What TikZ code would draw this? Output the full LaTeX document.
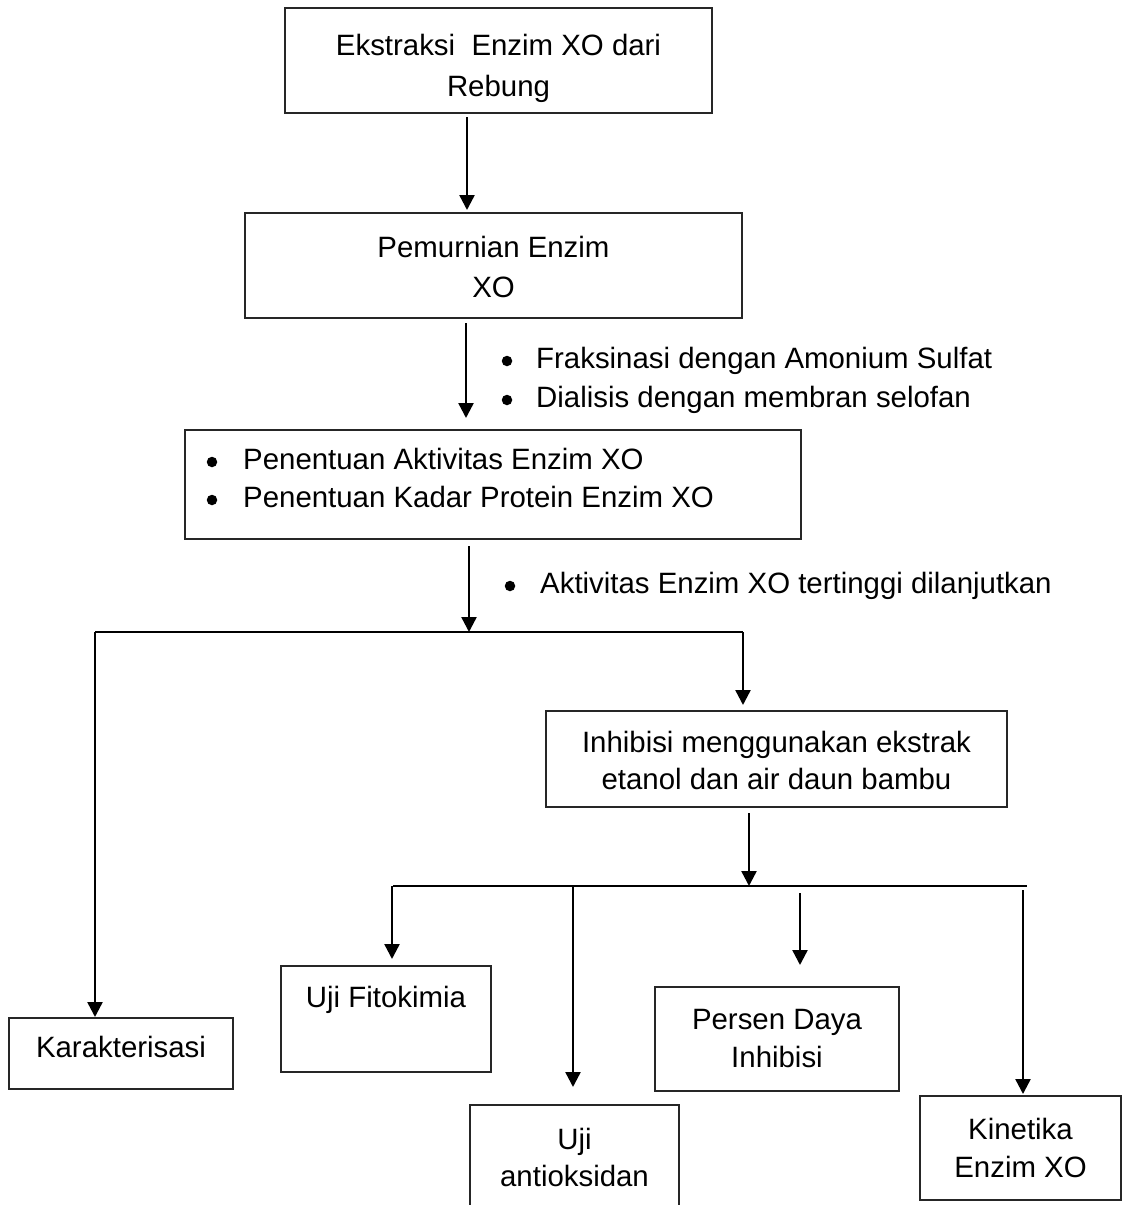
\documentclass[tikz,border=0pt]{standalone}
\usepackage{fontspec}
\setmainfont{Liberation Sans}
\usetikzlibrary{arrows.meta}
\begin{document}
\begin{tikzpicture}[x=1pt,y=-1pt,
  box/.style={draw=black!85, line width=1.4pt, inner sep=0pt, outer sep=0pt},
  ln/.style={line width=2.4pt},
  arr/.style={line width=2.4pt, -{Triangle[length=15pt,width=15pt]}},
  txt/.style={font=\fontsize{29.4}{38}\selectfont, inner sep=0pt, anchor=base},
  lft/.style={txt, anchor=base west},
  dot/.style={circle, fill=black, inner sep=0pt, minimum size=10.5pt}]
\useasboundingbox (0,0) rectangle (1123,1205);

% boxes
\node[box, minimum width=427pt, minimum height=105pt] (n1) at (498.5,60.5) {};
\node[box, minimum width=497pt, minimum height=105pt] (n2) at (493.5,265.5) {};
\node[box, minimum width=616pt, minimum height=109pt] (n3) at (493,484.5) {};
\node[box, minimum width=461pt, minimum height=96pt] (inh) at (776.5,759) {};
\node[box, minimum width=224pt, minimum height=71pt] (kar) at (121,1053.5) {};
\node[box, minimum width=210pt, minimum height=106pt] (fit) at (386,1019) {};
\node[box, minimum width=209pt, minimum height=110pt] (ant) at (574.5,1160) {};
\node[box, minimum width=244pt, minimum height=104pt] (per) at (777,1039) {};
\node[box, minimum width=201pt, minimum height=104pt] (kin) at (1020.5,1148) {};

% box texts
\node[txt] (t1a) at (498.5,55) {Ekstraksi\ \ Enzim XO dari};
\node[txt] (t1b) at (498.5,96) {Rebung};
\node[txt] (t2a) at (493.5,257) {Pemurnian Enzim};
\node[txt] (t2b) at (493.5,297) {XO};
\node[dot] (d3a) at (212,462) {};
\node[lft] (t3a) at (243,469) {Penentuan Aktivitas Enzim XO};
\node[dot] (d3b) at (212,500) {};
\node[lft] (t3b) at (243,507) {Penentuan Kadar Protein Enzim XO};
\node[txt] (t4a) at (776.5,752) {Inhibisi menggunakan ekstrak};
\node[txt] (t4b) at (776.5,789) {etanol dan air daun bambu};
\node[txt] (tk) at (121,1057) {Karakterisasi};
\node[txt] (tf) at (386,1007) {Uji Fitokimia};
\node[txt] (tan1) at (574.5,1149) {Uji};
\node[txt] (tan2) at (574.5,1186) {antioksidan};
\node[txt] (tp1) at (777,1029) {Persen Daya};
\node[txt] (tp2) at (777,1067) {Inhibisi};
\node[txt] (tki1) at (1020.5,1139) {Kinetika};
\node[txt] (tki2) at (1020.5,1177) {Enzim XO};

% notes beside the arrows
\node[dot] (d5a) at (507,361) {};
\node[lft] (t5a) at (536,368) {Fraksinasi dengan Amonium Sulfat};
\node[dot] (d5b) at (507,400) {};
\node[lft] (t5b) at (536,407) {Dialisis dengan membran selofan};
\node[dot] (d6) at (510,586) {};
\node[lft] (t6) at (540,593) {Aktivitas Enzim XO tertinggi dilanjutkan};

% junction points
\coordinate (s1L) at (95,632);
\coordinate (s1R) at (743,632);
\coordinate (s1J) at (469,632);
\coordinate (s2L) at (393,886);
\coordinate (s2R) at (1027,886);
\coordinate (s2J) at (749,886);
\coordinate (b1) at (392,886);
\coordinate (b2) at (573,886);
\coordinate (b3) at (800,893);
\coordinate (b4) at (1023,890);

% connectors
\draw[arr] ([xshift=-31.5pt,yshift=-4pt]n1.south) -- ([xshift=-26.5pt,yshift=3pt]n2.north);
\draw[arr] ([xshift=-27.5pt,yshift=-5pt]n2.south) -- ([xshift=-27pt,yshift=12pt]n3.north);
\draw[arr] ([xshift=-24pt,yshift=-7pt]n3.south) -- (s1J);
\draw[ln] (s1L) -- (s1R);
\draw[arr] (s1L) -- ([xshift=-26pt,yshift=1pt]kar.north);
\draw[arr] (s1R) -- ([xshift=-33.5pt,yshift=6pt]inh.north);
\draw[arr] ([xshift=-27.5pt,yshift=-6pt]inh.south) -- (s2J);
\draw[ln] (s2L) -- (s2R);
\draw[arr] (b1) -- ([xshift=6pt,yshift=7pt]fit.north);
\draw[arr] (b2) -- ([xshift=-1.5pt,yshift=18pt]ant.north);
\draw[arr] (b3) -- ([xshift=23pt,yshift=22pt]per.north);
\draw[arr] (b4) -- ([xshift=2.5pt,yshift=2pt]kin.north);
\end{tikzpicture}
\end{document}
